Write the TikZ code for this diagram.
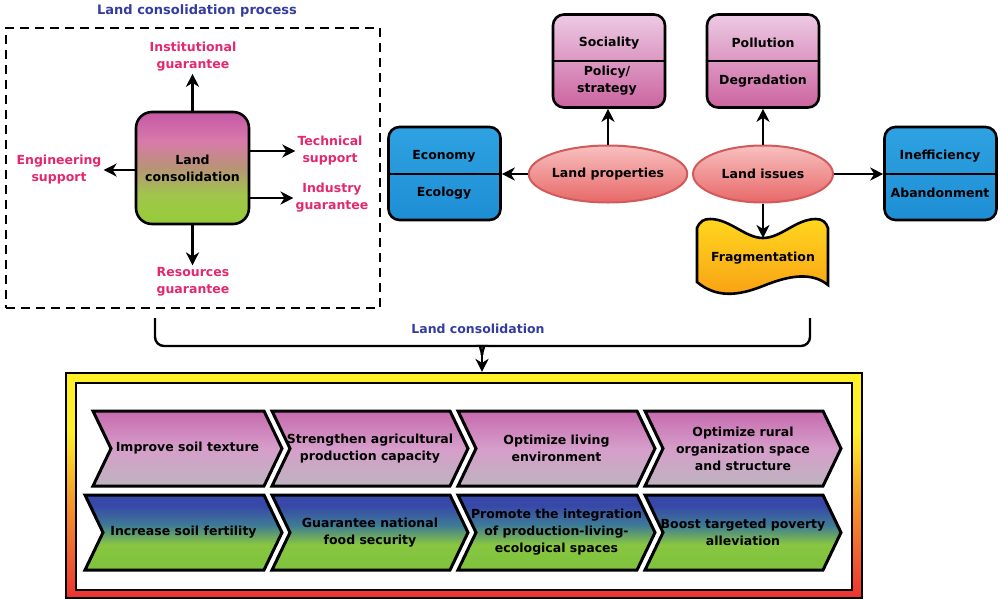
\documentclass[tikz,border=0pt]{standalone}
\usepackage{fontspec}
\setmainfont{DejaVu Sans}
\usetikzlibrary{arrows.meta,shapes.geometric}
\definecolor{pinktxt}{RGB}{228,40,110}
\definecolor{bluetxt}{RGB}{52,60,160}
\definecolor{pbTop}{RGB}{236,202,228}
\definecolor{pbBot}{RGB}{204,100,160}
\definecolor{blTop}{RGB}{46,162,226}
\definecolor{blBot}{RGB}{30,142,212}
\definecolor{elTop}{RGB}{248,192,192}
\definecolor{elBot}{RGB}{232,104,104}
\definecolor{elLine}{RGB}{210,90,90}
\definecolor{frTop}{RGB}{255,214,30}
\definecolor{frBot}{RGB}{248,160,20}
\definecolor{lcM}{RGB}{196,88,166}
\definecolor{lcP}{RGB}{216,122,170}
\definecolor{lcT}{RGB}{184,148,118}
\definecolor{lcG2}{RGB}{160,198,76}
\definecolor{lcG}{RGB}{150,204,56}
\definecolor{ctM}{RGB}{198,106,174}
\definecolor{ctP}{RGB}{214,158,202}
\definecolor{ctG}{RGB}{190,180,192}
\definecolor{cbB}{RGB}{56,72,168}
\definecolor{cbT}{RGB}{62,122,150}
\definecolor{cbG}{RGB}{136,198,64}
\definecolor{cbG2}{RGB}{126,194,60}
\definecolor{fY}{RGB}{255,240,40}
\definecolor{fO}{RGB}{246,160,40}
\definecolor{fR}{RGB}{236,50,50}
\pgfdeclareverticalshading{lcshade}{100bp}{color(0bp)=(lcG); color(25bp)=(lcG); color(38bp)=(lcG2); color(50bp)=(lcT); color(62bp)=(lcP); color(75bp)=(lcM); color(100bp)=(lcM)}
\pgfdeclareverticalshading{ctshade}{100bp}{color(0bp)=(ctG); color(25bp)=(ctG); color(50bp)=(ctP); color(75bp)=(ctM); color(100bp)=(ctM)}
\pgfdeclareverticalshading{cbshade}{100bp}{color(0bp)=(cbG2); color(25bp)=(cbG2); color(42bp)=(cbG); color(55bp)=(cbT); color(68bp)=(cbB); color(100bp)=(cbB)}
\pgfdeclareverticalshading{frshade}{100bp}{color(0bp)=(fR); color(25bp)=(fR); color(48bp)=(fO); color(62bp)=(fY); color(75bp)=(fY); color(100bp)=(fY)}
\newcommand\mychev[7]{%
  \pgfmathsetmacro\chM{(#3+#4)/2}%
  \pgfmathsetmacro\chT{#2+18}%
  \pgfmathsetmacro\chN{#1+18}%
  \pgfmathsetmacro\chX{(\chN+#2)/2}%
  \shadedraw[chevline, shading=#5] (#1,#3) -- (#2,#3) -- (\chT,\chM) -- (#2,#4) -- (#1,#4) -- (\chN,\chM) -- cycle;
  \node[chevtext] (#6) at (\chX,\chM) {#7};}
\begin{document}
\begin{tikzpicture}[x=1pt,y=-1pt,
  font=\bfseries\fontsize{12.5}{17}\selectfont,
  arr/.style={line width=2.4pt,-{Stealth[length=13pt,width=13pt,inset=4pt]}},
  lbl/.style={text=pinktxt, align=center, inner sep=2pt},
  catbox/.style={draw, line width=2.6pt, rounded corners=11pt, minimum width=112pt, minimum height=93pt},
  pinkbox/.style={catbox, top color=pbTop, bottom color=pbBot},
  bluebox/.style={catbox, top color=blTop, bottom color=blBot},
  ell/.style={ellipse, draw=elLine, line width=2pt, top color=elTop, bottom color=elBot, minimum width=140pt, minimum height=57pt, inner sep=0pt},
  divline/.style={line width=2pt},
  chevline/.style={line width=3pt, line join=miter},
  chevtext/.style={align=center, inner sep=1pt},
  brk/.style={line width=2.4pt, rounded corners=9pt}]
\useasboundingbox (0,0) rectangle (1000,600);

% ---- left: land consolidation process ----
\node[text=bluetxt, font=\bfseries\fontsize{13}{16}\selectfont] (title) at (197,11) {Land consolidation process};
\node[draw, line width=2.6pt, dash pattern=on 9pt off 6pt, minimum width=374pt, minimum height=280pt] (proc) at (193,168) {};
\node[draw, line width=2.6pt, rounded corners=16pt, shade, shading=lcshade, minimum width=113pt, minimum height=112pt, align=center] (lc) at (192.5,168) {Land\\consolidation};
\node[lbl] (inst) at (193,57) {Institutional\\guarantee};
\node[lbl] (eng) at (59,170) {Engineering\\support};
\node[lbl] (tech) at (330,151) {Technical\\support};
\node[lbl] (ind) at (332,198) {Industry\\guarantee};
\node[lbl] (res) at (193,282) {Resources\\guarantee};
\draw[arr] (lc.north) -- (lc.north |- inst.south);
\draw[arr] (lc.west |- eng.east) -- (eng.east);
\draw[arr] (lc.east |- tech.west) -- (tech.west);
\draw[arr] (lc.east |- ind.west) -- (ind.west);
\draw[arr] (lc.south) -- (lc.south |- res.north);

% ---- right: land properties / issues ----
\node[pinkbox] (soc) at (609,61) {};
\draw[divline] (soc.west) -- (soc.east);
\node (soct) at (609,43) {Sociality};
\node[align=center] (polt) at (607,81) {Policy/\\strategy};
\node[pinkbox] (pol) at (763,61) {};
\draw[divline] (pol.west) -- (pol.east);
\node (pollt) at (763,43) {Pollution};
\node (degt) at (763,81) {Degradation};
\node[bluebox] (eco) at (444.5,173.5) {};
\draw[divline] (eco.west) -- (eco.east);
\node (econt) at (444,156) {Economy};
\node (ecolt) at (444,193) {Ecology};
\node[bluebox] (ine) at (940.5,173.5) {};
\draw[divline] (ine.west) -- (ine.east);
\node (inet) at (940,156) {Inefficiency};
\node (abat) at (940,193) {Abandonment};
\node[ell] (lp) at (608,174) {Land properties};
\node[ell] (li) at (763,174) {Land issues};
\shadedraw[line width=2.6pt, top color=frTop, bottom color=frBot]
  (697,228) .. controls (700,221) and (704,219) .. (710,219)
  .. controls (730,219) and (745,238) .. (763,238)
  .. controls (781,238) and (796,219) .. (816,219)
  .. controls (822,219) and (826,222) .. (828,228)
  -- (828,285)
  .. controls (812,272) and (790,275) .. (763,286)
  .. controls (738,296) and (716,298) .. (697,282) -- cycle;
\coordinate (fragtop) at (763,238);
\node (frag) at (763,258) {Fragmentation};
\draw[arr] (lp.north) -- (lp.north |- soc.south);
\draw[arr] (lp.west) -- (lp.west -| eco.east);
\draw[arr] (li.north) -- (li.north |- pol.south);
\draw[arr] (li.east) -- (li.east -| ine.west);
\draw[arr] (li.south) -- (fragtop);

% ---- bracket ----
\coordinate (bL) at (155,318);
\coordinate (bR) at (810,318);
\coordinate (bJ) at (482,355);
\draw[brk] (bL) |- (473,346) to[out=0,in=90] (bJ);
\draw[brk] (bR) |- (491,346) to[out=180,in=90] (bJ);
\node[text=bluetxt] (lcl) at (478,329) {Land consolidation};

% ---- bottom frame ----
\node[draw, line width=2.2pt, shade, shading=frshade, minimum width=796pt, minimum height=225pt] (frame) at (464,485.5) {};
\node[draw, line width=2.2pt, fill=white, minimum width=776pt, minimum height=207pt] (inner) at (464,486.5) {};
\draw[arr] (bJ) -- (bJ |- frame.north);

\mychev{93}{264}{411}{486}{ctshade}{t1}{Improve soil texture}
\mychev{272}{450}{411}{486}{ctshade}{t2}{Strengthen agricultural\\production capacity}
\mychev{458}{637}{411}{486}{ctshade}{t3}{Optimize living\\environment}
\mychev{645}{823}{411}{486}{ctshade}{t4}{Optimize rural\\organization space\\and structure}
\mychev{85}{264}{495}{570}{cbshade}{b1}{Increase soil fertility}
\mychev{272}{450}{495}{570}{cbshade}{b2}{Guarantee national\\food security}
\mychev{458}{637}{495}{570}{cbshade}{b3}{Promote the integration\\of production-living-\\ecological spaces}
\mychev{645}{823}{495}{570}{cbshade}{b4}{Boost targeted poverty\\alleviation}
\end{tikzpicture}
\end{document}
